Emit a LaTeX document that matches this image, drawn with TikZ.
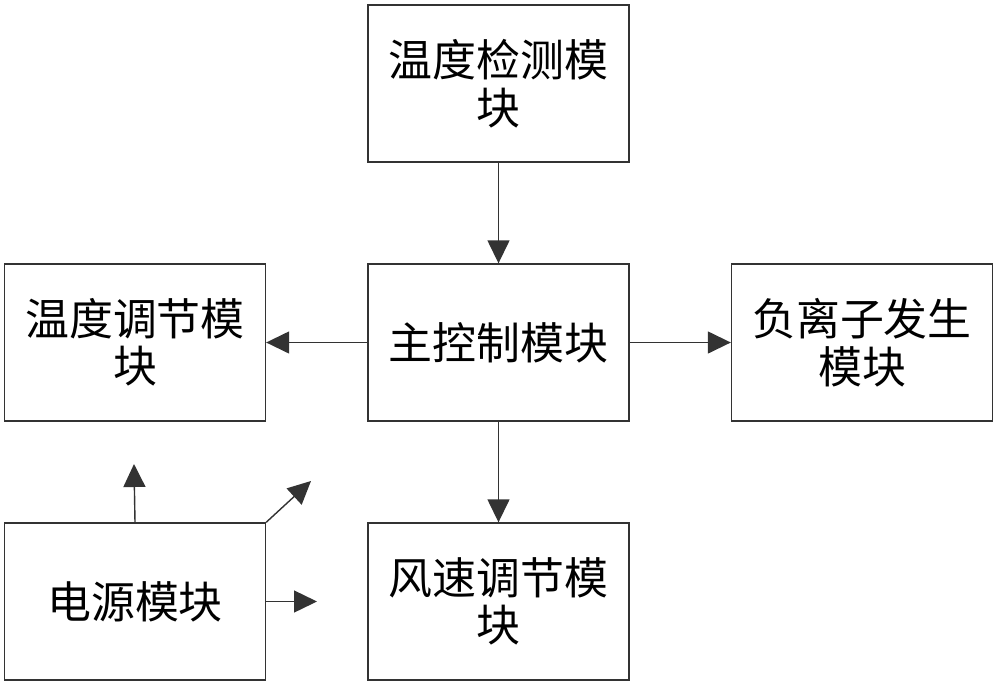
\documentclass[tikz,border=0pt]{standalone}
\usepackage{fontspec}
\newfontfamily\cjk{Noto Sans CJK SC}
\usepackage{tikz}
\usetikzlibrary{shapes,arrows.meta,positioning}

\tikzset{
	modbox/.style={draw=black!80,line width=.8pt,minimum width=5.22cm,minimum height=3.14cm,align=center,font=\cjk\fontsize{25}{27}\selectfont,inner sep=0pt},
	flow/.style={draw=black!80,line width=.8pt,-{Triangle[length=.46cm,width=.44cm]}}
}

\begin{document}
\begin{tikzpicture}[x=.02cm,y=-.02cm]
			\useasboundingbox (0,0) rectangle (1000,683);
			\node[modbox] (detect) at (498.5,83.5) {温度检测模\\块};
			\node[modbox] (main) at (498.5,342.5) {主控制模块};
			\node[modbox] (tempreg) at (135,342.5) {温度调节模\\块};
			\node[modbox] (ion) at (862,342.5) {负离子发生\\模块};
			\node[modbox] (wind) at (498.5,601.5) {风速调节模\\块};
			\node[modbox] (power) at (135,601.5) {电源模块};
			\draw[flow] (detect) -- (main);
			\draw[flow] (main) -- (tempreg);
			\draw[flow] (main) -- (ion);
			\draw[flow] (main) -- (wind);
			% free ends of the power outputs
			\coordinate (pup) at (134,464);
			\coordinate (pdiag) at (311,481);
			\coordinate (pright) at (317,601.5);
			\draw[flow] (power.north) -- (pup);
			\draw[flow] (power.north east) -- (pdiag);
			\draw[flow] (power.east) -- (pright);
		\end{tikzpicture}
\end{document}
